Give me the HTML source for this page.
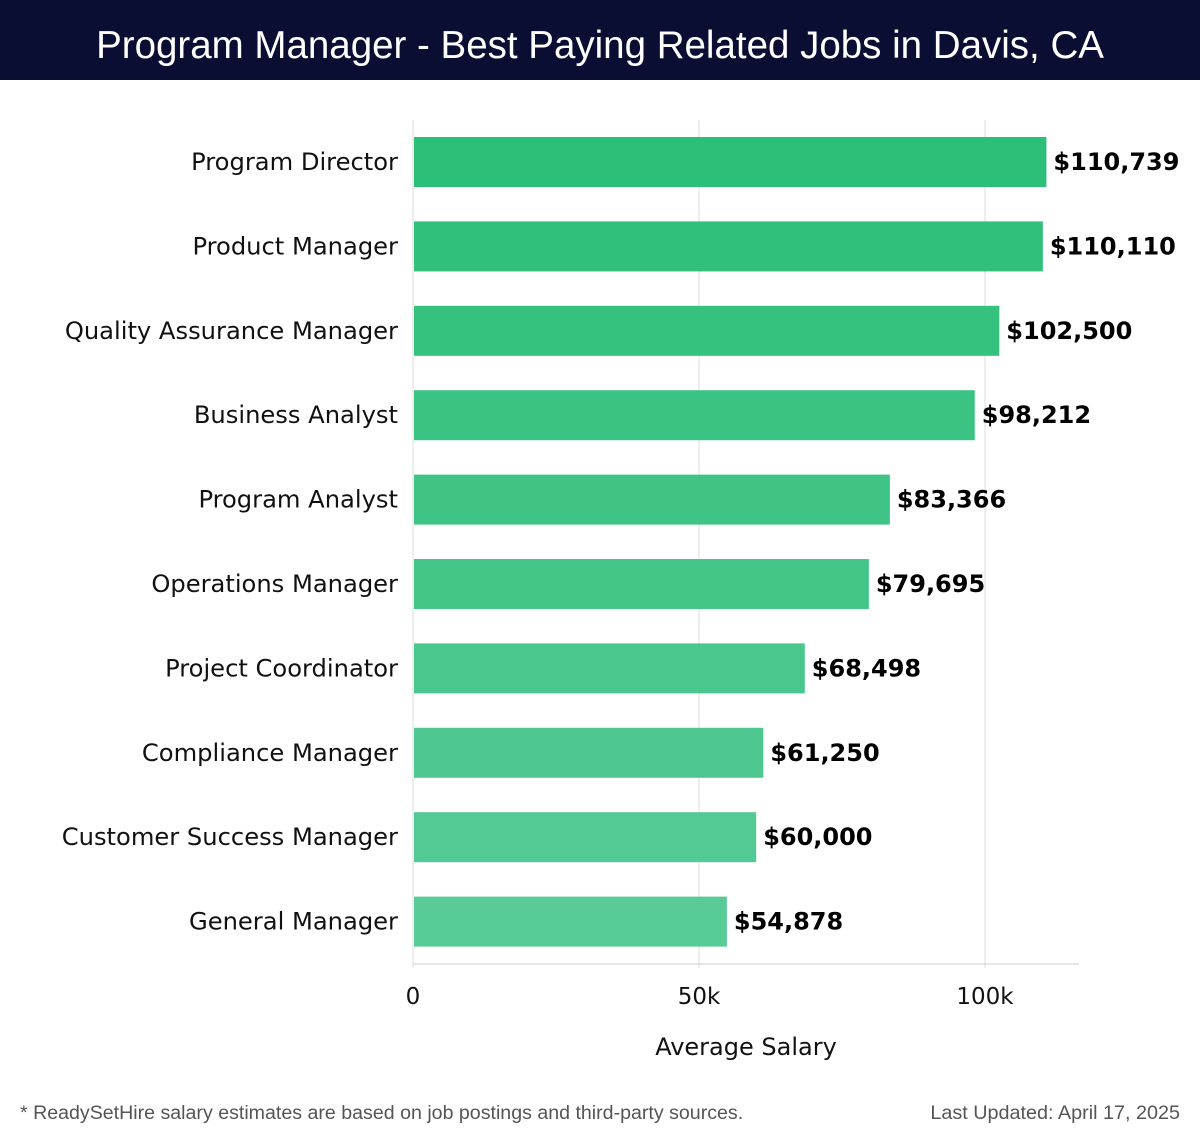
<!DOCTYPE html>
<html><head><meta charset="utf-8"><style>
body{margin:0;width:1200px;height:1140px;background:#fff;overflow:hidden;font-family:"DejaVu Sans","Liberation Sans",sans-serif}
</style></head><body>
<svg id="c" width="1200" height="1140" xmlns="http://www.w3.org/2000/svg">
<rect x="0" y="0" width="1200" height="80" fill="#0b0e33"/>
<text x="600" y="58" text-anchor="middle" fill="#fff" font-family="Liberation Sans, sans-serif" font-size="38.5">Program Manager - Best Paying Related Jobs in Davis, CA</text>
<g id="grid"></g><g id="bars"></g>
<text x="746" y="1055" text-anchor="middle" font-size="24" fill="#111">Average Salary</text>
<text x="20" y="1119" font-family="Liberation Sans, sans-serif" font-size="19.6" fill="#555">* ReadySetHire salary estimates are based on job postings and third-party sources.</text>
<text x="1180" y="1119" text-anchor="end" font-family="Liberation Sans, sans-serif" font-size="19.8" fill="#555">Last Updated: April 17, 2025</text>
</svg>
<script>
const categories=["Program Director","Product Manager","Quality Assurance Manager","Business Analyst","Program Analyst","Operations Manager","Project Coordinator","Compliance Manager","Customer Success Manager","General Manager"];
const values=[110739,110110,102500,98212,83366,79695,68498,61250,60000,54878];
const ticks=[0,50000,100000];
const tickLabels=["0","50k","100k"];
const NS="http://www.w3.org/2000/svg";
const x0=413,pxPer=572/100000,top0=120,step=84.4,bh=50,axisY=964;
const X=v=>x0+v*pxPer;
const Y=i=>top0+17+i*step;
function mk(t,a,p){const e=document.createElementNS(NS,t);for(const k in a)e.setAttribute(k,a[k]);p.appendChild(e);return e;}
const g=document.getElementById('grid'),b=document.getElementById('bars');
ticks.forEach((t,i)=>{
 const l=mk('line',{x1:X(t),x2:X(t),y1:120,y2:968,stroke:'#ddd','stroke-width':1},g);
 
 
 const tx=mk('text',{x:X(t),y:1004,'text-anchor':'middle','font-size':23,fill:'#111'},g);
 tx.textContent=tickLabels[i];
 
 
});
const ax=mk('line',{x1:x0,x2:1079,y1:axisY,y2:axisY,stroke:'#ccc','stroke-width':1},g);


const c1=[43,191,119],c2=[88,203,151];
categories.forEach((c,i)=>{
 const f=i/(categories.length-1);
 const col=`rgb(${c1.map((v,k)=>Math.round(v+(c2[k]-v)*f)).join(',')})`;
 const r=mk('rect',{x:x0+1,y:Y(i),width:X(values[i])-x0-1,height:bh,fill:col},b);
 
 
 const lb=mk('text',{x:398,y:Y(i)+bh/2+8,'text-anchor':'end','font-size':24.2,fill:'#111'},b);
 lb.textContent=c;
 
 
 const vl=mk('text',{x:X(values[i])+7,y:Y(i)+bh/2+8,'font-size':24,'font-weight':'bold',fill:'#000'},b);
 vl.textContent='$'+values[i].toLocaleString('en-US');
 
 
});
</script>
</body></html>
